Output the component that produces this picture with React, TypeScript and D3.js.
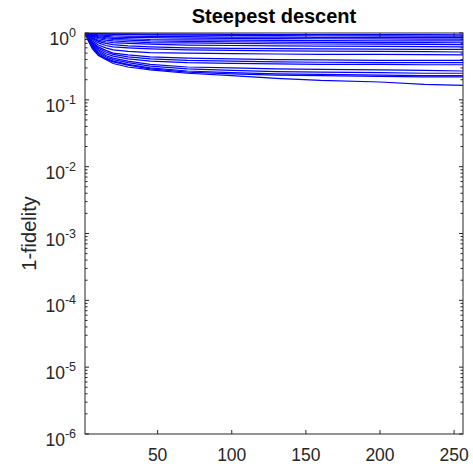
import React from "react";
import * as d3 from "d3";

const iterations = [1, 3, 6, 10, 15, 20, 30, 45, 70, 100, 130, 160, 200, 230, 256];

// 1-fidelity per run (one array per curve)
const runs: number[][] = [
  [1, 0.995, 0.99, 0.985, 0.98, 0.975, 0.97, 0.965, 0.96, 0.955, 0.95, 0.95, 0.945, 0.945, 0.94],
  [1, 0.99, 0.98, 0.97, 0.96, 0.955, 0.95, 0.94, 0.93, 0.92, 0.915, 0.91, 0.905, 0.9, 0.9],
  [1, 0.98, 0.96, 0.94, 0.92, 0.91, 0.9, 0.89, 0.88, 0.87, 0.865, 0.86, 0.86, 0.855, 0.85],
  [1, 0.97, 0.94, 0.91, 0.89, 0.87, 0.86, 0.85, 0.84, 0.83, 0.825, 0.82, 0.815, 0.81, 0.81],
  [1, 0.96, 0.92, 0.88, 0.85, 0.83, 0.82, 0.8, 0.79, 0.78, 0.775, 0.77, 0.765, 0.76, 0.76],
  [1, 0.95, 0.9, 0.85, 0.82, 0.8, 0.78, 0.76, 0.75, 0.74, 0.73, 0.725, 0.72, 0.72, 0.715],
  [1, 0.94, 0.88, 0.82, 0.78, 0.76, 0.74, 0.72, 0.71, 0.7, 0.69, 0.685, 0.68, 0.675, 0.67],
  [1, 0.93, 0.85, 0.78, 0.74, 0.72, 0.7, 0.68, 0.66, 0.65, 0.64, 0.635, 0.63, 0.625, 0.62],
  [1, 0.92, 0.83, 0.75, 0.7, 0.67, 0.64, 0.62, 0.6, 0.59, 0.585, 0.58, 0.575, 0.57, 0.57],
  [1, 0.91, 0.8, 0.71, 0.65, 0.62, 0.6, 0.58, 0.56, 0.55, 0.54, 0.535, 0.53, 0.525, 0.52],
  [1, 0.88, 0.76, 0.66, 0.6, 0.56, 0.53, 0.51, 0.5, 0.49, 0.485, 0.48, 0.48, 0.475, 0.47],
  [1, 0.87, 0.73, 0.62, 0.55, 0.5, 0.47, 0.44, 0.42, 0.41, 0.4, 0.395, 0.39, 0.39, 0.39],
  [1, 0.86, 0.71, 0.59, 0.52, 0.48, 0.44, 0.41, 0.39, 0.38, 0.37, 0.365, 0.36, 0.36, 0.36],
  [1, 0.85, 0.69, 0.56, 0.49, 0.45, 0.41, 0.38, 0.36, 0.35, 0.345, 0.34, 0.34, 0.335, 0.335],
  [1, 0.84, 0.67, 0.54, 0.46, 0.42, 0.38, 0.34, 0.31, 0.3, 0.29, 0.285, 0.28, 0.275, 0.27],
  [1, 0.83, 0.65, 0.51, 0.44, 0.4, 0.36, 0.32, 0.29, 0.275, 0.265, 0.26, 0.255, 0.25, 0.25],
  [1, 0.82, 0.63, 0.49, 0.42, 0.38, 0.34, 0.3, 0.27, 0.255, 0.245, 0.24, 0.235, 0.23, 0.23],
  [1, 0.81, 0.61, 0.47, 0.41, 0.37, 0.33, 0.29, 0.26, 0.245, 0.235, 0.23, 0.225, 0.22, 0.22],
  [1, 0.78, 0.58, 0.46, 0.4, 0.35, 0.31, 0.28, 0.25, 0.23, 0.21, 0.195, 0.185, 0.17, 0.165],
];

const xTicks = [50, 100, 150, 200, 250];
const yExponents = [0, -1, -2, -3, -4, -5, -6];

const W = 473;
const H = 467;
const m = { left: 85, right: 10, top: 33, bottom: 33 };
const axisColor = "#262626";
const font = "'Liberation Sans', Arial, Helvetica, sans-serif";

export default function App() {
  const x = d3.scaleLinear().domain([1, 256]).range([m.left, W - m.right]);
  const y = d3.scaleLog().domain([1e-6, 1]).range([H - m.bottom, m.top]);

  const line = d3
    .line<number>()
    .x((_, i) => x(iterations[i]))
    .y((d) => y(d));

  const x0 = x.range()[0];
  const x1 = x.range()[1];
  const y0 = y.range()[0];
  const y1 = y.range()[1];

  // minor ticks 2..9 per decade
  const minor: number[] = [];
  for (let k = -6; k < 0; k++) {
    for (let j = 2; j <= 9; j++) minor.push(j * Math.pow(10, k));
  }

  return (
    <svg width={W} height={H} style={{ position: "absolute", left: 0, top: 0 }} fontFamily={font}>
      <rect x={0} y={0} width={W} height={H} fill="#fff" />
      <g clipPath="url(#plotclip)">
        <clipPath id="plotclip">
          <rect x={x0} y={y1} width={x1 - x0} height={y0 - y1} />
        </clipPath>
        {runs.map((r, i) => (
          <path key={i} d={line(r) || ""} fill="none" stroke="#0000ff" strokeWidth={1.2} />
        ))}
      </g>
      <g stroke={axisColor} strokeWidth={1} fill="none">
        <rect x={x0} y={y1} width={x1 - x0} height={y0 - y1} />
        {xTicks.map((t) => (
          <g key={t}>
            <line x1={x(t)} x2={x(t)} y1={y0} y2={y0 - 4} />
            <line x1={x(t)} x2={x(t)} y1={y1} y2={y1 + 4} />
          </g>
        ))}
        {yExponents.map((e) => (
          <g key={e}>
            <line x1={x0} x2={x0 + 4} y1={y(Math.pow(10, e))} y2={y(Math.pow(10, e))} />
            <line x1={x1} x2={x1 - 4} y1={y(Math.pow(10, e))} y2={y(Math.pow(10, e))} />
          </g>
        ))}
        {minor.map((v, i) => (
          <g key={i}>
            <line x1={x0} x2={x0 + 2.5} y1={y(v)} y2={y(v)} />
            <line x1={x1} x2={x1 - 2.5} y1={y(v)} y2={y(v)} />
          </g>
        ))}
      </g>
      <g fill={axisColor} fontSize={17.5}>
        {xTicks.map((t) => (
          <text key={t} x={x(t)} y={y0 + 27} textAnchor="middle">
            {t}
          </text>
        ))}
        {yExponents.map((e) => (
          <text key={e} x={x0 - 9} y={y(Math.pow(10, e)) + 12} textAnchor="end">
            <tspan>10</tspan>
            <tspan dy={-8} fontSize={12.5}>
              {e}
            </tspan>
          </text>
        ))}
      </g>
      <text
        transform={`translate(36,${(y0 + y1) / 2}) rotate(-90)`}
        textAnchor="middle"
        fontSize={20}
        fill={axisColor}
      >
        1-fidelity
      </text>
      <text x={(x0 + x1) / 2} y={23} textAnchor="middle" fontSize={20} fontWeight="bold" fill="#000">
        Steepest descent
      </text>
    </svg>
  );
}
